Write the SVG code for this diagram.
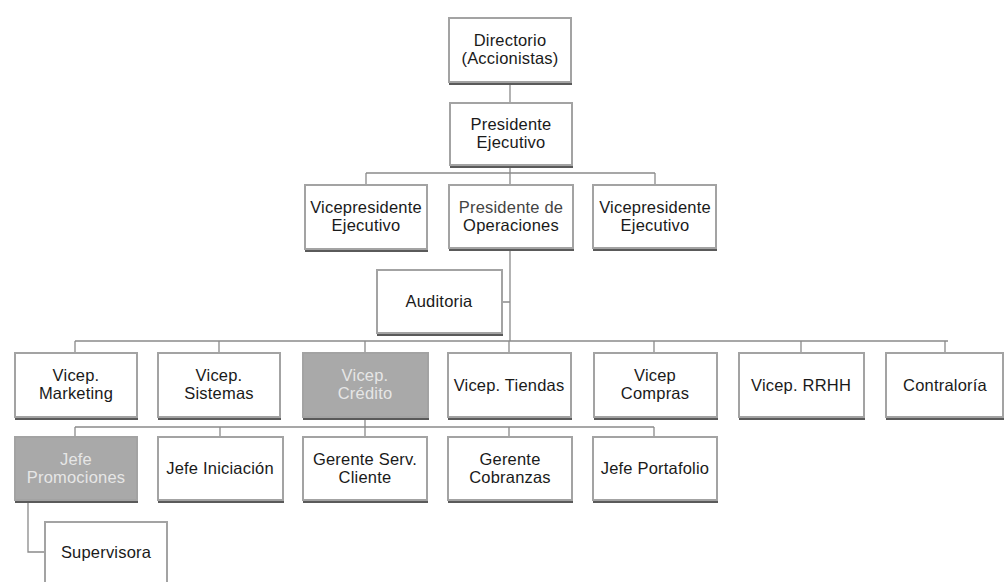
<svg xmlns="http://www.w3.org/2000/svg" width="1006" height="582" viewBox="0 0 1006 582">
<style>
.sh{fill:#5a5a5a}
.bx{fill:#ffffff;stroke:#a3a3a3;stroke-width:2}
.gb{fill:#a9a9a9;stroke:#a3a3a3;stroke-width:2}
text{font-family:"Liberation Sans",Arial,sans-serif;font-size:16.5px;fill:#1a1a1a;text-anchor:middle;letter-spacing:0.2px}
.lt{fill:#e6e6e6}
.cn{fill:none;stroke:#8a8a8a;stroke-width:1.3}
</style>
<rect width="1006" height="582" fill="#ffffff"/>
<g id="connectors">
<path class="cn" d="M510 82V103M510 165V173M366 173H655M366 173V185M510 173V185M655 173V185M510 248V341M502 302H510M75 341H948M75 341V353M219 341V353M365 341V353M509 341V353M654 341V353M801 341V353M945 341V353M365 417V427M75 427H654M75 427V437M220 427V437M365 427V437M509 427V437M654 427V437M28 500V552H45"/>
</g>
<g id="directorio"><rect class="sh" x="449" y="21" width="123" height="64"/><rect class="bx" x="449" y="18" width="122" height="64"/><text x="510" y="46">Directorio</text><text x="510" y="64">(Accionistas)</text></g>
<g id="presidente"><rect class="sh" x="450" y="106" width="123" height="62"/><rect class="bx" x="450" y="103" width="122" height="62"/><text x="511" y="130">Presidente</text><text x="511" y="148">Ejecutivo</text></g>
<g id="vp-izq"><rect class="sh" x="305" y="188" width="123" height="64"/><rect class="bx" x="305" y="185" width="122" height="64"/><text x="366" y="213">Vicepresidente</text><text x="366" y="231">Ejecutivo</text></g>
<g id="operaciones"><rect class="sh" x="449" y="188" width="125" height="63"/><rect class="bx" x="449" y="185" width="124" height="63"/><text x="511" y="213" style="fill:#444">Presidente de</text><text x="511" y="231">Operaciones</text></g>
<g id="vp-der"><rect class="sh" x="593" y="188" width="124" height="63"/><rect class="bx" x="593" y="185" width="123" height="63"/><text x="655" y="213">Vicepresidente</text><text x="655" y="231">Ejecutivo</text></g>
<g id="auditoria"><rect class="sh" x="377" y="273" width="126" height="63"/><rect class="bx" x="377" y="270" width="125" height="63"/><text x="439" y="307">Auditoria</text></g>
<g id="marketing"><rect class="sh" x="15" y="356" width="123" height="64"/><rect class="bx" x="15" y="353" width="122" height="64"/><text x="76" y="381">Vicep.</text><text x="76" y="399">Marketing</text></g>
<g id="sistemas"><rect class="sh" x="158" y="356" width="123" height="64"/><rect class="bx" x="158" y="353" width="122" height="64"/><text x="219" y="381">Vicep.</text><text x="219" y="399">Sistemas</text></g>
<g id="credito"><rect class="sh" x="303" y="356" width="126" height="64"/><rect class="gb" x="303" y="353" width="125" height="64"/><text class="lt" x="365" y="381">Vicep.</text><text class="lt" x="365" y="399">Crédito</text></g>
<g id="tiendas"><rect class="sh" x="448" y="356" width="124" height="64"/><rect class="bx" x="448" y="353" width="123" height="64"/><text x="509" y="391">Vicep. Tiendas</text></g>
<g id="compras"><rect class="sh" x="594" y="356" width="124" height="64"/><rect class="bx" x="594" y="353" width="123" height="64"/><text x="655" y="381">Vicep</text><text x="655" y="399">Compras</text></g>
<g id="rrhh"><rect class="sh" x="739" y="356" width="126" height="64"/><rect class="bx" x="739" y="353" width="125" height="64"/><text x="801" y="391">Vicep. RRHH</text></g>
<g id="contraloria"><rect class="sh" x="886" y="356" width="118" height="64"/><rect class="bx" x="886" y="353" width="117" height="64"/><text x="945" y="391">Contraloría</text></g>
<g id="promociones"><rect class="sh" x="15" y="440" width="123" height="63"/><rect class="gb" x="15" y="437" width="122" height="63"/><text class="lt" x="76" y="465">Jefe</text><text class="lt" x="76" y="483">Promociones</text></g>
<g id="iniciacion"><rect class="sh" x="158" y="440" width="126" height="63"/><rect class="bx" x="158" y="437" width="125" height="63"/><text x="220" y="474">Jefe Iniciación</text></g>
<g id="servcliente"><rect class="sh" x="303" y="440" width="125" height="63"/><rect class="bx" x="303" y="437" width="124" height="63"/><text x="365" y="465">Gerente Serv.</text><text x="365" y="483">Cliente</text></g>
<g id="cobranzas"><rect class="sh" x="448" y="440" width="125" height="63"/><rect class="bx" x="448" y="437" width="124" height="63"/><text x="510" y="465">Gerente</text><text x="510" y="483">Cobranzas</text></g>
<g id="portafolio"><rect class="sh" x="593" y="440" width="125" height="63"/><rect class="bx" x="593" y="437" width="124" height="63"/><text x="655" y="474">Jefe Portafolio</text></g>
<g id="supervisora"><rect class="sh" x="45" y="525" width="123" height="62"/><rect class="bx" x="45" y="522" width="122" height="62"/><text x="106" y="558">Supervisora</text></g>
</svg>
